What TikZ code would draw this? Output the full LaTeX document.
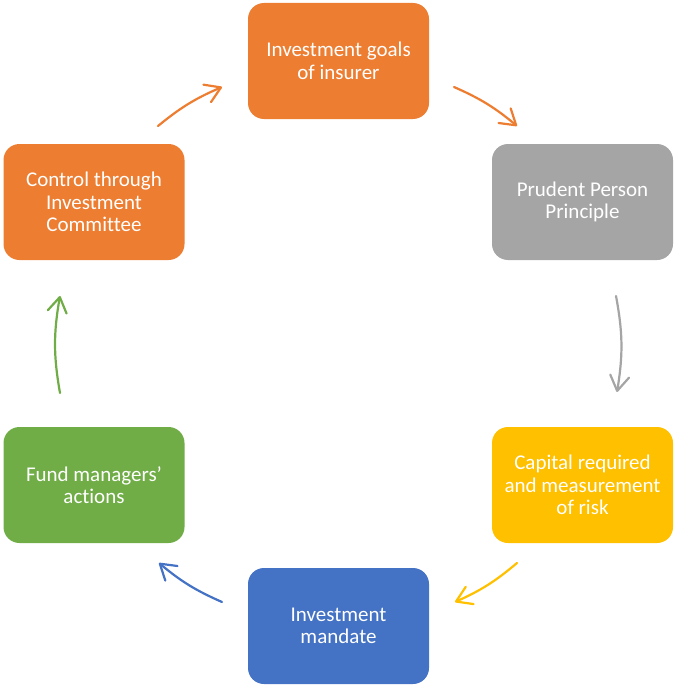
\documentclass[tikz,border=0pt]{standalone}
\usepackage{fontspec}
\setmainfont{Carlito}[Ligatures=NoCommon]
\usetikzlibrary{arrows.meta}
\definecolor{cOrange}{HTML}{ED7D31}
\definecolor{cGray}{HTML}{A5A5A5}
\definecolor{cGold}{HTML}{FFC000}
\definecolor{cBlue}{HTML}{4472C4}
\definecolor{cGreen}{HTML}{70AD47}
\begin{document}
\begin{tikzpicture}[x=1pt,y=-1pt,
  stagebox/.style={rounded corners=16pt, minimum width=181pt, minimum height=116pt,
    inner sep=0pt, text=white, align=center,
    font=\fontsize{21}{22.5}\selectfont},
  flow/.style={line width=2.2pt, line cap=round, line join=round,
    -{Straight Barb[length=15pt,width=19pt,line cap=round,line join=round]}}]
  \useasboundingbox (0,0) rectangle (673,685);

  % stages of the cycle
  \node[stagebox, fill=cOrange] (goals)   at (338.5,61)  {Investment goals\\of insurer};
  \node[stagebox, fill=cGray]   (prudent) at (582.5,202) {Prudent Person\\Principle};
  \node[stagebox, fill=cGold]   (capital) at (582.5,485) {Capital required\\and measurement\\of risk};
  \node[stagebox, fill=cBlue]   (mandate) at (338.5,626) {Investment\\mandate};
  \node[stagebox, fill=cGreen]  (fund)    at (94,485)    {Fund managers’\\actions};
  \node[stagebox, fill=cOrange] (control) at (94,202)    {Control through\\Investment\\Committee};

  % arc end points between the stages
  \coordinate (g2p) at (454,87);  \coordinate (p2g) at (517,126);
  \coordinate (p2c) at (616,296); \coordinate (c2p) at (617,392);
  \coordinate (c2m) at (517,563); \coordinate (m2c) at (455,602);
  \coordinate (m2f) at (222,602); \coordinate (f2m) at (159,563);
  \coordinate (f2k) at (60,393);  \coordinate (k2f) at (60,296);
  \coordinate (k2g) at (158,126); \coordinate (g2k) at (222,87);

  % clockwise connectors
  \draw[flow, cOrange] (g2p) to[bend left=8]  (p2g);
  \draw[flow, cGray]   (p2c) to[bend left=10] (c2p);
  \draw[flow, cGold]   (c2m) to[bend left=8]  (m2c);
  \draw[flow, cBlue]   (m2f) to[bend left=8]  (f2m);
  \draw[flow, cGreen]  (f2k) to[bend left=10] (k2f);
  \draw[flow, cOrange] (k2g) to[bend left=8]  (g2k);
\end{tikzpicture}
\end{document}
